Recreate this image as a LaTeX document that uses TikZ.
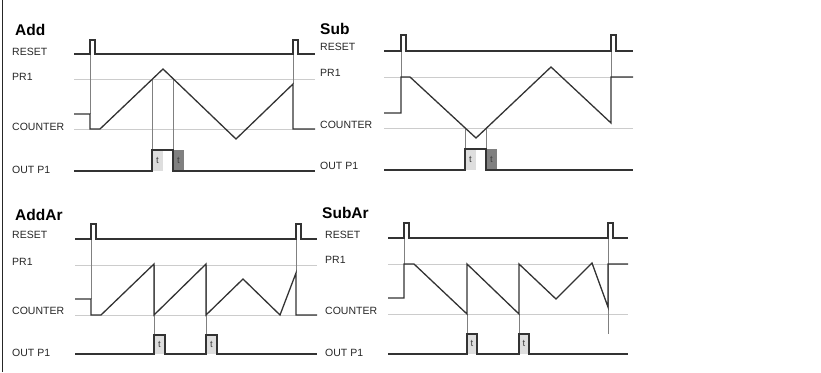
\documentclass[tikz,border=0pt]{standalone}
\usepackage{fontspec}
\setmainfont{Liberation Sans}
\begin{document}
\begin{tikzpicture}[x=1pt,y=-1pt,
 sig/.style={draw=black!80, line width=1.3pt, line join=miter},
 refl/.style={draw=black!20, line width=1pt},
 guide/.style={draw=black!50, line width=0.4pt},
 lbl/.style={anchor=west, inner sep=0pt, font=\fontsize{10.5}{12}\selectfont, text=black!85},
 ttl/.style={anchor=west, inner sep=0pt, font=\bfseries\fontsize{15.5}{18}\selectfont},
 tlab/.style={inner sep=0pt, font=\fontsize{9.5}{10}\selectfont, text=black!75},
 lightbox/.style={fill=black!13},
 darkbox/.style={fill=black!50}]
\useasboundingbox (0,0) rectangle (821,372);
\draw[line width=1.5pt, black!85] (2.5,0) -- (2.5,372);

% ---------------- Add ----------------
\node[ttl] (tAdd) at (15,30) {Add};
\node[lbl] (aR) at (12,52) {RESET};
\node[lbl] (aP) at (12,77) {PR1};
\node[lbl] (aC) at (12,127) {COUNTER};
\node[lbl] (aO) at (12,170) {OUT P1};
\fill[lightbox] (152,150) rectangle (163,171);
\fill[darkbox] (173,150) rectangle (184,171);
\node[tlab] (at1) at (157.5,160) {t};
\node[tlab] (at2) at (178.5,160) {t};
\draw[refl] (74,79) -- (315,79);
\draw[refl] (74,129) -- (315,129);
\draw[guide] (90,54) -- (90,114);
\draw[guide] (152,79) -- (152,150);
\draw[guide] (173,79) -- (173,150);
\draw[guide] (293,54) -- (293,84);
\draw[sig] (74,54) -| (90,40) -| (95,54) -| (293,40) -| (298,54) -- (315,54);
\draw[sig] (74,114) -- (90,114) -- (90,129) -- (100,129) -- (163,69) -- (236,139) -- (293,84) -- (293,129) -- (315,129);
\draw[sig] (74,171) -- (152,171) -- (152,150) -- (173,150) -- (173,171) -- (315,171);

% ---------------- Sub ----------------
\node[ttl] (tSub) at (320,29) {Sub};
\node[lbl] (sR) at (320,47) {RESET};
\node[lbl] (sP) at (320,73) {PR1};
\node[lbl] (sC) at (320,125) {COUNTER};
\node[lbl] (sO) at (320,166) {OUT P1};
\fill[lightbox] (465,149) rectangle (476,170);
\fill[darkbox] (486,149) rectangle (497,170);
\node[tlab] (st1) at (470.5,159) {t};
\node[tlab] (st2) at (491.5,159) {t};
\draw[refl] (384,77) -- (633,77);
\draw[refl] (384,128) -- (633,128);
\draw[guide] (401,51) -- (401,77);
\draw[guide] (611,51) -- (611,77);
\draw[guide] (465,128) -- (465,149);
\draw[guide] (486,128) -- (486,149);
\draw[sig] (384,51) -| (401,35) -| (406,51) -| (611,35) -| (616,51) -- (633,51);
\draw[sig] (384,113) -- (401,113) -- (401,77) -- (410,77) -- (476,138) -- (551,67) -- (611,123) -- (611,77) -- (633,77);
\draw[sig] (384,170) -- (465,170) -- (465,149) -- (486,149) -- (486,170) -- (633,170);

% ---------------- AddAr ----------------
\node[ttl] (tAddAr) at (15,215) {AddAr};
\node[lbl] (bR) at (12,235) {RESET};
\node[lbl] (bP) at (12,262) {PR1};
\node[lbl] (bC) at (12,311) {COUNTER};
\node[lbl] (bO) at (12,353) {OUT P1};
\fill[lightbox] (154,335) rectangle (165,354);
\fill[lightbox] (206,335) rectangle (217,354);
\node[tlab] (bt1) at (159.5,344) {t};
\node[tlab] (bt2) at (211.5,344) {t};
\draw[refl] (75,265) -- (317,265);
\draw[refl] (75,315) -- (317,315);
\draw[guide] (91,239) -- (91,299);
\draw[guide] (154,265) -- (154,335);
\draw[guide] (206,265) -- (206,335);
\draw[guide] (296,239) -- (296,273);
\draw[sig] (75,239) -| (91,224) -| (96,239) -| (296,224) -| (301,239) -- (317,239);
\draw[sig] (75,299) -- (91,299) -- (91,315) -- (101,315) -- (154,264) -- (154,315) -- (206,264) -- (206,315) -- (243,279) -- (280,315) -- (296,273) -- (296,315) -- (317,315);
\draw[sig] (75,354) -| (154,335) -| (165,354) -| (206,335) -| (217,354) -- (317,354);

% ---------------- SubAr ----------------
\node[ttl] (tSubAr) at (322,213) {SubAr};
\node[lbl] (cR) at (325,235) {RESET};
\node[lbl] (cP) at (325,260) {PR1};
\node[lbl] (cC) at (325,311) {COUNTER};
\node[lbl] (cO) at (325,353) {OUT P1};
\fill[lightbox] (467,334) rectangle (477,354);
\fill[lightbox] (519,334) rectangle (529,354);
\node[tlab] (ct1) at (472,343) {t};
\node[tlab] (ct2) at (524,343) {t};
\draw[refl] (388,264) -- (628,264);
\draw[refl] (388,314) -- (628,314);
\draw[guide] (404,238) -- (404,264);
\draw[guide] (467,314) -- (467,334);
\draw[guide] (519,314) -- (519,334);
\draw[guide] (608,238) -- (608,334);
\draw[sig] (388,238) -| (404,223) -| (409,238) -| (608,223) -| (613,238) -- (628,238);
\draw[sig] (388,298) -- (404,298) -- (404,264) -- (414,264) -- (467,314) -- (467,264) -- (519,314) -- (519,264) -- (556,299) -- (592,263) -- (608,307) -- (608,264) -- (628,264);
\draw[sig] (388,354) -| (467,334) -| (477,354) -| (519,334) -| (529,354) -- (628,354);
\end{tikzpicture}
\end{document}
